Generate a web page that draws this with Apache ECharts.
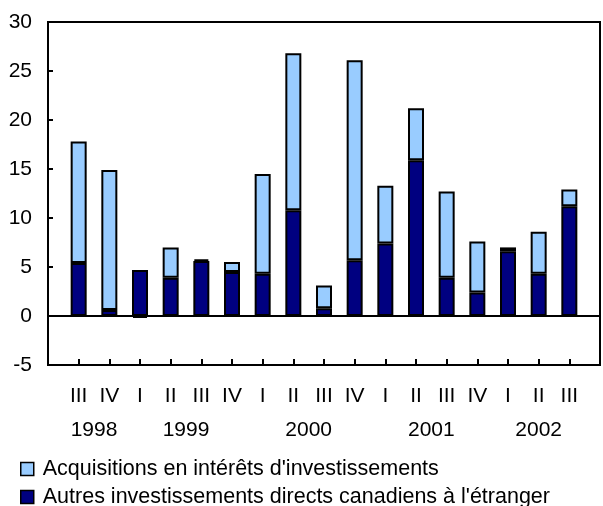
<!DOCTYPE html>
<html>
<head>
<meta charset="utf-8">
<script src="https://cdn.jsdelivr.net/npm/echarts@6/dist/echarts.min.js"></script>
<style>
html,body{margin:0;padding:0;background:#fff;}
#c{width:603px;height:506px;}
</style>
</head>
<body>
<div id="c"></div>
<script>
// Data
var quarters = ['III','IV','I','II','III','IV','I','II','III','IV','I','II','III','IV','I','II','III'];
var quarterYears = ['1998','1998','1999','1999','1999','1999','2000','2000','2000','2000','2001','2001','2001','2001','2002','2002','2002'];
var autres = [5.4,0.6,4.7,3.9,5.6,4.5,4.3,10.8,0.8,5.7,7.4,15.9,3.9,2.4,6.6,4.3,11.2];
var acquisitions = [12.4,14.3,-0.2,3.1,0.2,1.0,10.2,16.0,2.3,20.4,5.9,5.3,8.8,5.2,0.4,4.3,1.7];
var yTicks = {min:-5, max:30, interval:5};
var nameAcq = "Acquisitions en intérêts d'investissements";
var nameAutres = "Autres investissements directs canadiens à l'étranger";

// padded categories (one empty slot each side)
var cats = [''].concat(quarters).concat(['']);
function pad(a){ return [null].concat(a).concat([null]); }

// year label centres (in category index units)
var yearCenters = [];
(function(){
  var map = {};
  quarterYears.forEach(function(y,i){
    if(!map[y]){ map[y] = []; yearCenters.push({year:y, idx:map[y]}); }
    map[y].push(i+1);
  });
  yearCenters.forEach(function(o){
    var s = 0; o.idx.forEach(function(v){ s += v; }); o.c = s / o.idx.length;
  });
})();

var FONT = 'Liberation Sans, Arial, sans-serif';
var chart = echarts.init(document.getElementById('c'), null, {renderer:'canvas'});
chart.setOption({
  animation:false,
  backgroundColor:'#fff',
  grid:{left:48, top:22, width:558, height:343, show:true, borderColor:'#000', borderWidth:2, backgroundColor:'transparent'},
  legend:{
    orient:'vertical', left:20, top:458, padding:0, itemGap:6, height:60,
    itemWidth:13, itemHeight:13, icon:'rect',
    data:[nameAcq, nameAutres],
    itemStyle:{borderColor:'#000', borderWidth:1.5},
    textStyle:{fontFamily:FONT, fontSize:21.5, color:'#000', lineHeight:21, padding:[0,0,0,4]}
  },
  xAxis:[{
    type:'category', data:cats, boundaryGap:false, position:'bottom',
    axisLine:{show:false, onZero:false},
    axisTick:{show:true, inside:true, length:6, interval:0, lineStyle:{color:'#000', width:2}},
    axisLabel:{interval:0, margin:21, fontFamily:FONT, fontSize:21, color:'#000'},
    splitLine:{show:false}
  },{
    type:'value', position:'bottom', min:0, max:cats.length-1, interval:0.5,
    axisLine:{show:false}, axisTick:{show:false}, splitLine:{show:false},
    axisLabel:{margin:55, fontFamily:FONT, fontSize:21, color:'#000',
      formatter:function(v){
        for(var i=0;i<yearCenters.length;i++){ if(Math.abs(yearCenters[i].c - v) < 0.01) return yearCenters[i].year; }
        return '';
      }}
  }],
  yAxis:{
    type:'value', min:yTicks.min, max:yTicks.max, interval:yTicks.interval,
    axisLine:{show:false},
    axisTick:{show:true, inside:true, length:5, lineStyle:{color:'#000', width:2}},
    axisLabel:{margin:16, fontFamily:FONT, fontSize:21, color:'#000'},
    splitLine:{show:false}
  },
  series:[{
    name:nameAutres, type:'bar', stack:'s', xAxisIndex:0, data:pad(autres), barWidth:16,
    itemStyle:{color:'#000080', borderColor:'#000', borderWidth:2},
    markLine:{silent:true, symbol:'none', label:{show:false}, lineStyle:{color:'#000', width:2, type:'solid'}, data:[{yAxis:0}]}
  },{
    name:nameAcq, type:'bar', stack:'s', xAxisIndex:0, data:pad(acquisitions), barWidth:16,
    itemStyle:{color:'#99CCFF', borderColor:'#000', borderWidth:2}
  }]
});
</script>
</body>
</html>
